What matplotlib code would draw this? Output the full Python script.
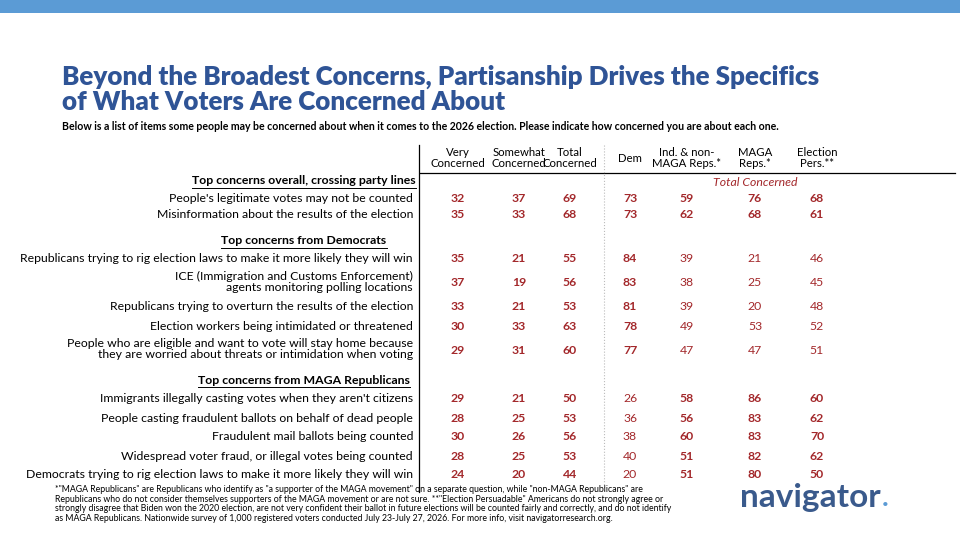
import matplotlib
matplotlib.use("Agg")
import matplotlib.pyplot as plt
from matplotlib.lines import Line2D

plt.rcParams['font.family'] = ['Lato', 'DejaVu Sans']

title = "Beyond the Broadest Concerns, Partisanship Drives the Specifics\nof What Voters Are Concerned About"
subtitle = ("Below is a list of items some people may be concerned about when it comes to the 2026 election. "
            "Please indicate how concerned you are about each one.")
col_labels = ["Very\nConcerned", "Somewhat\nConcerned", "Total\nConcerned", "Dem",
              "Ind. & non-\nMAGA Reps.*", "MAGA\nReps.*", "Election\nPers.**"]
sections = ["Top concerns overall, crossing party lines",
            "Top concerns from Democrats",
            "Top concerns from MAGA Republicans"]
items = [
    "People's legitimate votes may not be counted",
    "Misinformation about the results of the election",
    "Republicans trying to rig election laws to make it more likely they will win",
    "ICE (Immigration and Customs Enforcement)\nagents monitoring polling locations",
    "Republicans trying to overturn the results of the election",
    "Election workers being intimidated or threatened",
    "People who are eligible and want to vote will stay home because\nthey are worried about threats or intimidation when voting",
    "Immigrants illegally casting votes when they aren't citizens",
    "People casting fraudulent ballots on behalf of dead people",
    "Fraudulent mail ballots being counted",
    "Widespread voter fraud, or illegal votes being counted",
    "Democrats trying to rig election laws to make it more likely they will win",
]
item_section = [0, 0, 1, 1, 1, 1, 1, 2, 2, 2, 2, 2]
very = [32, 35, 35, 37, 33, 30, 29, 29, 28, 30, 28, 24]
somewhat = [37, 33, 21, 19, 21, 33, 31, 21, 25, 26, 25, 20]
total = [69, 68, 55, 56, 53, 63, 60, 50, 53, 56, 53, 44]
dem = [73, 73, 84, 83, 81, 78, 77, 26, 36, 38, 40, 20]
ind = [59, 62, 39, 38, 39, 49, 47, 58, 56, 60, 51, 51]
maga = [76, 68, 21, 25, 20, 53, 47, 86, 83, 83, 82, 80]
pers = [68, 61, 46, 45, 48, 52, 51, 60, 62, 70, 62, 50]
footnote = ("*\"MAGA Republicans\" are Republicans who identify as \"a supporter of the MAGA movement\" on a separate question, while \"non-MAGA Republicans\" are\n"
            "Republicans who do not consider themselves supporters of the MAGA movement or are not sure. **\"Election Persuadable\" Americans do not strongly agree or\n"
            "strongly disagree that Biden won the 2020 election, are not very confident their ballot in future elections will be counted fairly and correctly, and do not identify\n"
            "as MAGA Republicans. Nationwide survey of 1,000 registered voters conducted July 23-July 27, 2026. For more info, visit navigatorresearch.org.")

W, H = 960, 540
fig = plt.figure(figsize=(9.6, 5.4), dpi=100)
ax = fig.add_axes([0, 0, 1, 1])
ax.set_xlim(0, W); ax.set_ylim(H, 0); ax.axis('off')

RED = "#a3282b"
BLUE = "#2f5496"
FS = 8.8
ax.add_patch(plt.Rectangle((0, 0), W, 13, color="#5b9bd5", lw=0))
ax.text(62, 89, title, fontsize=18.7, fontweight='heavy', color=BLUE, va='center', ha='left', linespacing=1.05)
ax.text(62, 126, subtitle, fontsize=7.6, fontweight='bold', color='black', va='center')

col_x = [458, 519, 570, 630, 687, 755, 817]
for x, lab in zip(col_x, col_labels):
    ax.text(x, 158, lab, fontsize=8.2, ha='center', va='center', linespacing=1.0)
ax.add_line(Line2D([420, 955], [173, 173], color='black', lw=0.9))
ax.add_line(Line2D([419, 419], [145, 492], color='black', lw=0.9))
ax.add_line(Line2D([604, 604], [145, 492], color='#bbbbbb', lw=0.8, ls=':'))
ax.text(755, 182, "Total Concerned", fontsize=FS, color=RED, style='italic', ha='center', va='center')

fig.canvas.draw()
r = fig.canvas.get_renderer()
inv = ax.transData.inverted()

sec_y = [181, 241, 380]
for y, s in zip(sec_y, sections):
    t = ax.text(304, y, s, fontsize=FS, fontweight='bold', ha='center', va='center')
    bb = t.get_window_extent(r)
    (x0, _), (x1, _) = inv.transform([(bb.x0, bb.y0), (bb.x1, bb.y1)])
    ax.add_line(Line2D([x0, x1], [y + 7, y + 7], color='black', lw=0.7))

row_y = [198, 215, 259, 283, 307, 327, 350, 399, 418, 437, 456, 475]
for i, (lab, y) in enumerate(zip(items, row_y)):
    ax.text(413, y - (1 if '\n' in lab else 0), lab, fontsize=FS, ha='right', va='center', linespacing=1.1)
    s = item_section[i]
    vals = [very[i], somewhat[i], total[i], dem[i], ind[i], maga[i], pers[i]]
    bolds = [True, True, True, s in (0, 1), s in (0, 2), s in (0, 2), s in (0, 2)]
    for x, v, b in zip(col_x, vals, bolds):
        ax.text(x, y, str(v), fontsize=FS, color=RED, ha='center', va='center',
                fontweight='bold' if b else 'normal')

ax.text(55, 504, footnote, fontsize=6.3, ha='left', va='center', linespacing=1.1)
nt = ax.text(740, 498, "navigator", fontsize=24, fontweight='bold', color="#3a5a8c", ha='left', va='center')
bb = nt.get_window_extent(r)
xe, _ = inv.transform((bb.x1, bb.y0))
ax.text(xe + 1, 506, ".", fontsize=20, fontweight='bold', color="#5b9bd5", ha='left', va='baseline')

fig.savefig("out.png", dpi=100)
